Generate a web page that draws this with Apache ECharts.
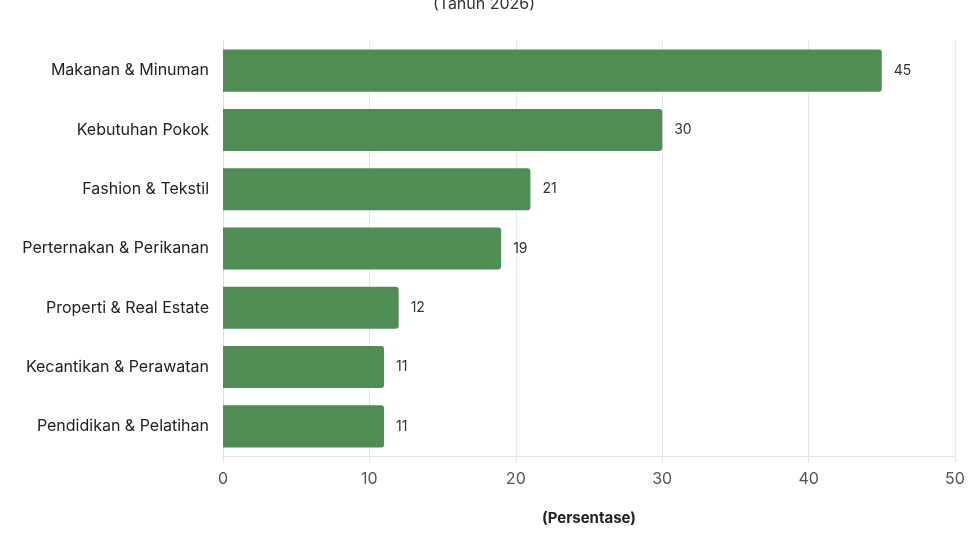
<!DOCTYPE html>
<html>
<head>
<meta charset="utf-8">
<script src="https://cdn.jsdelivr.net/npm/echarts@6/dist/echarts.min.js"></script>
<style>
  html, body { margin: 0; padding: 0; background: #fff; }
  #chart { width: 968px; height: 543px; }
</style>
</head>
<body>
<div id="chart"></div>
<script>
    // data
    var categories = ['Makanan & Minuman', 'Kebutuhan Pokok', 'Fashion & Tekstil', 'Perternakan & Perikanan',
        'Properti & Real Estate', 'Kecantikan & Perawatan', 'Pendidikan & Pelatihan'];
    var values = [45, 30, 21, 19, 12, 11, 11];
    var xTicks = [0, 10, 20, 30, 40, 50];

    var fontName = 'Inter';

    var option = {
        animation: false,
        title: {
            text: '(Tahun 2026)',
            left: 'center',
            top: -9,
            textStyle: { fontFamily: fontName, fontSize: 16, fontWeight: 'normal', color: '#333' }
        },
        grid: { left: 223, right: 13, top: 41, bottom: 87 },
        xAxis: {
            type: 'value',
            min: xTicks[0],
            max: xTicks[xTicks.length - 1],
            interval: 10,
            name: '(Persentase)',
            nameLocation: 'middle',
            nameGap: 55,
            nameTextStyle: { fontFamily: fontName, fontSize: 15, fontWeight: 'bold', color: '#222' },
            axisLine: { show: true, lineStyle: { color: '#e3e3e3' } },
            axisTick: { show: true, length: 6, lineStyle: { color: '#e3e3e3' } },
            axisLabel: { fontFamily: fontName, fontSize: 16, color: '#555', margin: 15 },
            splitLine: { lineStyle: { color: '#e6e6e6' } }
        },
        yAxis: {
            type: 'category',
            inverse: true,
            data: categories,
            axisLine: { show: true, lineStyle: { color: '#dcdcdc' } },
            axisTick: { show: false },
            axisLabel: { fontFamily: fontName, fontSize: 16, color: '#222', margin: 14 }
        },
        series: [{
            type: 'bar',
            data: values,
            barWidth: '71%',
            itemStyle: { color: '#4f8d55', borderRadius: [0, 3, 3, 0] },
            label: {
                show: true,
                position: 'right',
                distance: 12,
                fontFamily: fontName,
                fontSize: 14,
                color: '#333'
            }
        }]
    };

    var myChart = echarts.init(document.getElementById('chart'));
    myChart.setOption(option);
</script>
</body>
</html>
